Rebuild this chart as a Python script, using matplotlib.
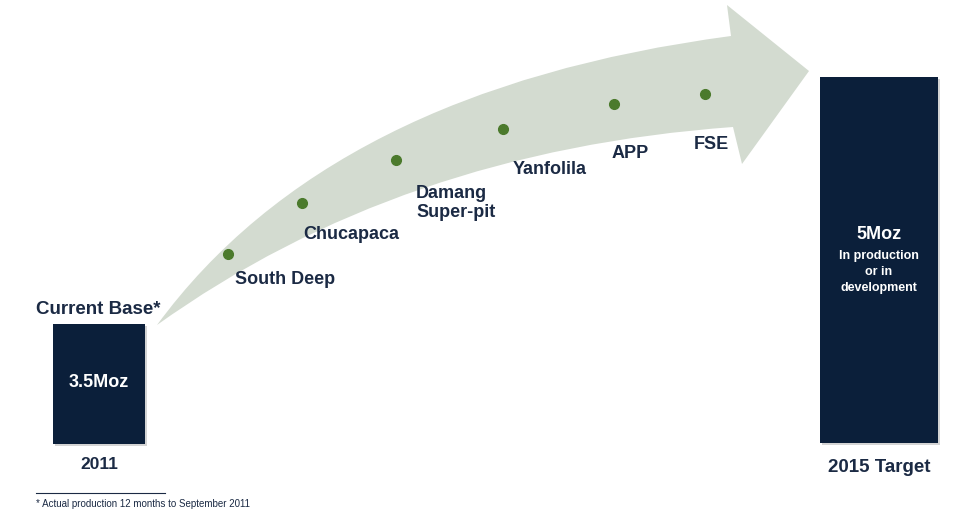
import matplotlib
matplotlib.use("Agg")
import matplotlib.pyplot as plt
from matplotlib.path import Path
from matplotlib.patches import PathPatch, Rectangle

plt.rcParams["font.family"] = ["Liberation Sans", "DejaVu Sans"]

# data
milestones = ["South Deep", "Chucapaca", "Damang\nSuper-pit", "Yanfolila", "APP", "FSE"]
base_label = "3.5Moz"
target_label = "5Moz"
target_sub = "In production\nor in\ndevelopment"
years = ["2011", "2015 Target"]
footnote = "* Actual production 12 months to September 2011"

NAVY = "#0b1f3a"
TEXT = "#1b2a44"
ARROW = "#d3dbd0"
DOT = "#4b7a2c"

# layout (pixel space of a 960x510 canvas)
dot_xy = [(228, 255), (302, 204), (396, 161), (503, 130), (614, 105), (705, 95)]
label_xy = [(235, 280), (303, 235), (416, 203), (513, 170), (612, 154), (694, 145)]

fig = plt.figure(figsize=(9.6, 5.1), dpi=100)
ax = fig.add_axes([0, 0, 1, 1])
ax.set_xlim(0, 960)
ax.set_ylim(510, 0)
ax.axis("off")

# curved arrow
verts = [
    (157, 326),
    (330, 90), (731, 37),      # upper edge
    (727, 6),                  # head top
    (809, 72),                 # tip
    (742, 165),                # head bottom
    (733, 128),                # notch bottom
    (400, 152), (157, 326),    # lower edge back to tail
]
codes = [Path.MOVETO, Path.CURVE3, Path.CURVE3, Path.LINETO, Path.LINETO,
         Path.LINETO, Path.LINETO, Path.CURVE3, Path.CURVE3]
ax.add_patch(PathPatch(Path(verts, codes), facecolor=ARROW, edgecolor="none", zorder=1))

# bars with soft shadow
for (x, y, w, h) in [(53, 325, 92, 120), (820, 78, 118, 366)]:
    ax.add_patch(Rectangle((x + 2, y + 2), w, h, facecolor="#a0a0a0", alpha=0.45,
                           edgecolor="none", zorder=2))
    ax.add_patch(Rectangle((x, y), w, h, facecolor=NAVY, edgecolor="none", zorder=3))

# milestone dots and labels
for (dx, dy), (lx, ly), name in zip(dot_xy, label_xy, milestones):
    ax.plot(dx, dy, "o", color=DOT, markersize=7, zorder=4)
    ax.text(lx, ly, name, ha="left", va="center", fontsize=13, fontweight="bold",
            color=TEXT, linespacing=1.2, zorder=5)

ax.text(36, 310, "Current Base*", ha="left", va="center", fontsize=13.5,
        fontweight="bold", color=TEXT)
ax.text(99, 383, base_label, ha="center", va="center", fontsize=13,
        fontweight="bold", color="white", zorder=5)
ax.text(99, 465, years[0], ha="center", va="center", fontsize=12.5,
        fontweight="bold", color=TEXT)

ax.text(879, 235, target_label, ha="center", va="center", fontsize=13,
        fontweight="bold", color="white", zorder=5)
ax.text(879, 272, target_sub, ha="center", va="center", fontsize=9,
        fontweight="bold", color="white", linespacing=1.4, zorder=5)
ax.text(879, 468, years[1], ha="center", va="center", fontsize=13.5,
        fontweight="bold", color=TEXT)

# footnote
ax.plot([36, 165], [494, 494], color=TEXT, linewidth=0.8)
ax.text(36, 504, footnote, ha="left", va="center", fontsize=7, color=TEXT)

fig.savefig("out.png", dpi=100)
